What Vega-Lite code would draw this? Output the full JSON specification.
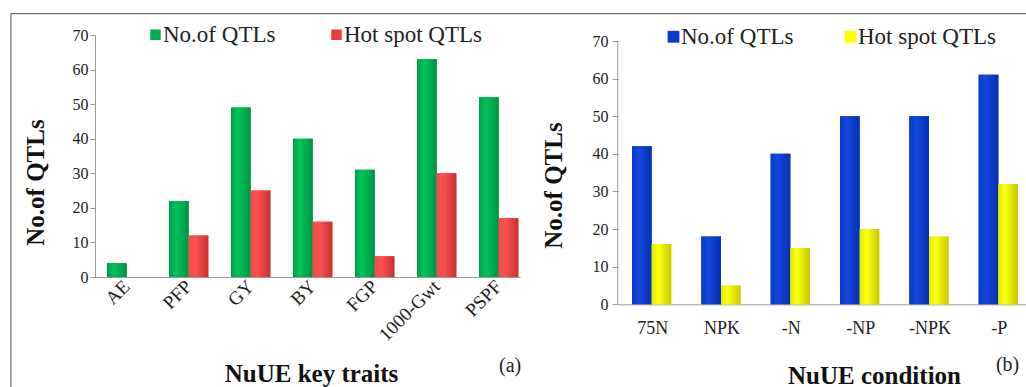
{
  "$schema": "https://vega.github.io/schema/vega-lite/v6.json",
  "autosize": {"type": "pad"},
  "padding": {"left": 10, "top": 13, "right": 0, "bottom": 0},
  "background": "white",
  "bounds": "flush",
  "spacing": 98,
  "resolve": {"scale": {"color": "independent"}, "legend": {"color": "independent"}},
  "config": {
    "view": {"stroke": null},
    "font": "Liberation Serif",
    "axis": {"labelFont": "Liberation Serif", "titleFont": "Liberation Serif", "labelColor": "#222222", "titleColor": "#111111", "grid": false, "domainColor": "#999999", "tickColor": "#999999"},
    "legend": {"labelFont": "Liberation Serif", "labelColor": "#222222"}
  },
  "datasets": {
    "a": [
      {"trait": "AE", "series": "No.of QTLs", "value": 4},
      {"trait": "PFP", "series": "No.of QTLs", "value": 22},
      {"trait": "PFP", "series": "Hot spot QTLs", "value": 12},
      {"trait": "GY", "series": "No.of QTLs", "value": 49},
      {"trait": "GY", "series": "Hot spot QTLs", "value": 25},
      {"trait": "BY", "series": "No.of QTLs", "value": 40},
      {"trait": "BY", "series": "Hot spot QTLs", "value": 16},
      {"trait": "FGP", "series": "No.of QTLs", "value": 31},
      {"trait": "FGP", "series": "Hot spot QTLs", "value": 6},
      {"trait": "1000-Gwt", "series": "No.of QTLs", "value": 63},
      {"trait": "1000-Gwt", "series": "Hot spot QTLs", "value": 30},
      {"trait": "PSPF", "series": "No.of QTLs", "value": 52},
      {"trait": "PSPF", "series": "Hot spot QTLs", "value": 17}
    ],
    "b": [
      {"condition": "75N", "series": "No.of QTLs", "value": 42},
      {"condition": "75N", "series": "Hot spot QTLs", "value": 16},
      {"condition": "NPK", "series": "No.of QTLs", "value": 18},
      {"condition": "NPK", "series": "Hot spot QTLs", "value": 5},
      {"condition": "-N", "series": "No.of QTLs", "value": 40},
      {"condition": "-N", "series": "Hot spot QTLs", "value": 15},
      {"condition": "-NP", "series": "No.of QTLs", "value": 50},
      {"condition": "-NP", "series": "Hot spot QTLs", "value": 20},
      {"condition": "-NPK", "series": "No.of QTLs", "value": 50},
      {"condition": "-NPK", "series": "Hot spot QTLs", "value": 18},
      {"condition": "-P", "series": "No.of QTLs", "value": 61},
      {"condition": "-P", "series": "Hot spot QTLs", "value": 32}
    ],
    "labelA": [{"label": "(a)"}],
    "labelB": [{"label": "(b)"}]
  },
  "hconcat": [
    {
      "width": 425,
      "height": 242,
      "data": {"name": "a"},
      "layer": [
        {
          "mark": {"type": "bar"},
          "encoding": {
            "x": {
              "field": "trait", "type": "nominal",
              "scale": {"domain": ["AE", "PFP", "GY", "BY", "FGP", "1000-Gwt", "PSPF"], "paddingInner": 0.366, "paddingOuter": 0.11, "align": 0.88},
              "axis": {"orient": "bottom", "domain": true, "ticks": false, "labelAngle": -45, "labelAlign": "right", "labelBaseline": "middle", "labelFontSize": 19, "labelPadding": 6,
                "title": "NuUE key traits", "titleFontSize": 25, "titleFontWeight": "bold", "titleX": 216, "titleY": 104, "titleAlign": "center", "titleBaseline": "alphabetic"}
            },
            "xOffset": {"field": "series", "type": "nominal", "scale": {"domain": ["No.of QTLs", "Hot spot QTLs"]}},
            "y": {
              "field": "value", "type": "quantitative",
              "scale": {"domain": [0, 70], "nice": false},
              "axis": {"orient": "left", "values": [0, 10, 20, 30, 40, 50, 60, 70], "tickCount": 8, "labelOverlap": false, "domain": true, "tickSize": 5, "labelFontSize": 16, "labelPadding": 2,
                "title": "No.of QTLs", "titleFontSize": 25, "titleFontWeight": "bold", "titleX": -52, "titleY": 147, "titleAngle": -90, "titleAlign": "center", "titleBaseline": "alphabetic"}
            },
            "color": {
              "field": "series", "type": "nominal",
              "scale": {"domain": ["No.of QTLs", "Hot spot QTLs"], "range": ["#00b050", "#e84040"]},
              "legend": {"orient": "none", "legendX": 49, "legendY": -12, "direction": "horizontal", "title": null, "symbolType": "square", "symbolSize": 110, "labelFontSize": 23, "columnPadding": 49, "labelOffset": -4, "padding": 0}
            }
          }
        },
        {
          "mark": {"type": "bar"},
          "encoding": {
            "x": {"field": "trait", "type": "nominal"},
            "xOffset": {"field": "series", "type": "nominal"},
            "y": {"field": "value", "type": "quantitative"},
            "fill": {
              "condition": {"test": "datum.series === 'No.of QTLs'", "value": {"gradient": "linear", "x1": 0, "x2": 1, "y1": 0, "y2": 0, "stops": [{"offset": 0, "color": "#00a048"}, {"offset": 0.35, "color": "#00c25a"}, {"offset": 1, "color": "#009442"}]}},
              "value": {"gradient": "linear", "x1": 0, "x2": 1, "y1": 0, "y2": 0, "stops": [{"offset": 0, "color": "#f04a48"}, {"offset": 0.35, "color": "#ff5050"}, {"offset": 1, "color": "#c83030"}]}
            }
          }
        },
        {
          "data": {"name": "labelA"},
          "mark": {"type": "rule", "color": "#4a4a4a"},
          "encoding": {
            "x": {"datum": "AE", "bandPosition": -2.444},
            "x2": {"datum": "PSPF", "bandPosition": 13.94},
            "y": {"datum": 76.17}
          }
        },
        {
          "data": {"name": "labelA"},
          "mark": {"type": "rule", "color": "#4a4a4a"},
          "encoding": {
            "x": {"datum": "AE", "bandPosition": -2.444},
            "y": {"datum": 76.17},
            "y2": {"datum": -33.88}
          }
        },
        {
          "data": {"name": "labelA"},
          "mark": {"type": "text", "font": "Liberation Serif", "fontWeight": "normal", "fontSize": 20, "align": "center", "baseline": "alphabetic", "color": "#222222"},
          "encoding": {
            "x": {"datum": "PSPF", "bandPosition": 0.79},
            "y": {"datum": -27.5},
            "text": {"field": "label"}
          }
        }
      ]
    },
    {
      "width": 409,
      "height": 269.3,
      "data": {"name": "b"},
      "layer": [
        {
          "mark": {"type": "bar"},
          "encoding": {
            "x": {
              "field": "condition", "type": "nominal",
              "scale": {"domain": ["75N", "NPK", "-N", "-NP", "-NPK", "-P"], "paddingInner": 0.404, "paddingOuter": 0.1514, "align": 0.667},
              "axis": {"orient": "bottom", "domain": true, "ticks": false, "labelAngle": 0, "labelAlign": "center", "labelBaseline": "top", "labelFontSize": 18, "labelPadding": 15,
                "title": "NuUE condition", "titleFontSize": 25, "titleFontWeight": "bold", "titleX": 256, "titleY": 79, "titleAlign": "center", "titleBaseline": "alphabetic"}
            },
            "xOffset": {"field": "series", "type": "nominal", "scale": {"domain": ["No.of QTLs", "Hot spot QTLs"]}},
            "y": {
              "field": "value", "type": "quantitative",
              "scale": {"domain": [0, 71.6], "nice": false},
              "axis": {"orient": "left", "values": [0, 10, 20, 30, 40, 50, 60, 70], "tickCount": 8, "labelOverlap": false, "domain": false, "tickSize": 6, "labelFontSize": 16, "labelPadding": 4,
                "title": "No.of QTLs", "titleFontSize": 25, "titleFontWeight": "bold", "titleX": -57, "titleY": 150, "titleAngle": -90, "titleAlign": "center", "titleBaseline": "alphabetic"}
            },
            "color": {
              "field": "series", "type": "nominal",
              "scale": {"domain": ["No.of QTLs", "Hot spot QTLs"], "range": ["#0b3ccf", "#ffff00"]},
              "legend": {"orient": "none", "legendX": 44, "legendY": -10, "direction": "horizontal", "title": null, "symbolType": "square", "symbolSize": 140, "labelFontSize": 23, "columnPadding": 45, "labelOffset": -4, "padding": 0}
            }
          }
        },
        {
          "mark": {"type": "bar"},
          "encoding": {
            "x": {"field": "condition", "type": "nominal"},
            "xOffset": {"field": "series", "type": "nominal"},
            "y": {"field": "value", "type": "quantitative"},
            "fill": {
              "condition": {"test": "datum.series === 'No.of QTLs'", "value": {"gradient": "linear", "x1": 0, "x2": 1, "y1": 0, "y2": 0, "stops": [{"offset": 0, "color": "#0a38c4"}, {"offset": 0.35, "color": "#1048dc"}, {"offset": 1, "color": "#0830b0"}]}},
              "value": {"gradient": "linear", "x1": 0, "x2": 1, "y1": 0, "y2": 0, "stops": [{"offset": 0, "color": "#e8e800"}, {"offset": 0.35, "color": "#ffff10"}, {"offset": 1, "color": "#c8c800"}]}
            }
          }
        },
        {
          "data": {"name": "labelB"},
          "mark": {"type": "rule", "color": "#999999"},
          "encoding": {
            "x": {"datum": "75N", "bandPosition": -0.346},
            "y": {"datum": 0},
            "y2": {"datum": 70}
          }
        },
        {
          "data": {"name": "labelB"},
          "mark": {"type": "text", "font": "Liberation Serif", "fontWeight": "normal", "fontSize": 20, "align": "center", "baseline": "alphabetic", "color": "#222222"},
          "encoding": {
            "x": {"datum": "-P", "bandPosition": 0.7},
            "y": {"datum": -17.7},
            "text": {"field": "label"}
          }
        }
      ]
    }
  ]
}
